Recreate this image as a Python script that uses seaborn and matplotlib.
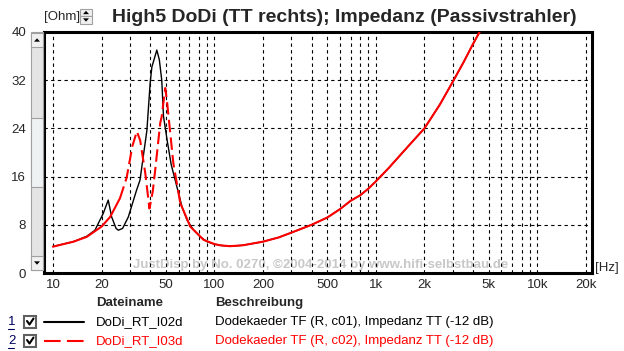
import matplotlib
matplotlib.use("Agg")
import matplotlib.pyplot as plt
import seaborn as sns
from matplotlib.patches import Rectangle, Polygon
from matplotlib.lines import Line2D

# Kurve 1: DoDi_RT_I02d (schwarz)
freq_1 = [10, 13.4, 16.2, 18.2, 20.5, 22.0, 23.1, 24.6, 25.4, 27.0, 29.3, 33.0,
          34.6, 38.2, 40, 41, 44, 45.6, 47.2, 48.4, 51, 54, 58.6, 63, 67.7, 74,
          81.8, 90, 100, 112, 125, 150, 200, 250, 300, 400, 500, 600, 700, 800,
          900, 1000, 1200, 1500, 2000, 2500, 3000, 3500, 4000, 4500, 5000]
imp_1 = [4.4, 5.2, 6.1, 7.1, 9.9, 12.1, 9.3, 7.4, 7.1, 7.4, 9.3, 13.8,
         15.4, 23.7, 31.5, 34.2, 37.0, 35.4, 32.0, 26.0, 22.0, 18.0, 14.3, 11.0, 8.8, 7.2,
         6.0, 5.2, 4.8, 4.55, 4.45, 4.6, 5.2, 5.9, 6.7, 8.0, 9.2, 10.6, 12.0, 12.9,
         14.0, 15.2, 17.4, 20.3, 24.0, 28.0, 31.75, 35.0, 38.0, 40.5, 43.0]

# Kurve 2: DoDi_RT_I03d (rot, gestrichelt)
freq_2 = [10, 13.4, 16.2, 20, 22.6, 26, 28.6, 31, 33.1, 34.7, 37.3, 39.6, 41.5,
          43, 46.2, 47.2, 49.6, 50.8, 52, 55.7, 61.5, 70.9, 85.8, 100, 108, 125,
          150, 200, 250, 300, 400, 500, 600, 700, 800, 900, 1000, 1200, 1500,
          2000, 2500, 3000, 3500, 4000, 4500, 5000]
imp_2 = [4.37, 5.2, 6.0, 7.7, 9.3, 12.4, 15.8, 21.0, 23.5, 22.0, 16.6, 10.7, 13.5,
         17.1, 24.9, 26.0, 30.7, 28.7, 26.0, 18.2, 11.6, 7.7, 5.5, 4.8, 4.6, 4.45,
         4.6, 5.2, 5.9, 6.7, 8.0, 9.2, 10.6, 12.0, 12.9, 14.0, 15.2, 17.4, 20.3,
         24.0, 28.0, 31.75, 35.0, 38.0, 40.5, 43.0]

x_ticks = [10, 20, 50, 100, 200, 500, 1000, 2000, 5000, 10000, 20000]
x_labels = ["10", "20", "50", "100", "200", "500", "1k", "2k", "5k", "10k", "20k"]
y_ticks = [0, 8, 16, 24, 32, 40]
grid_x = ([d * m for d in (10, 100, 1000) for m in range(1, 10)] + [10000, 20000])
grid_y = [8, 16, 24, 32]

file_names = ["DoDi_RT_I02d", "DoDi_RT_I03d"]
descriptions = ["Dodekaeder TF (R, c01), Impedanz TT (-12 dB)",
                "Dodekaeder TF (R, c02), Impedanz TT (-12 dB)"]
colors = ["black", "#ff0000"]

sns.set_style("white")
plt.rcParams["font.family"] = ["Liberation Sans", "DejaVu Sans"]

W, H = 624, 351
fig = plt.figure(figsize=(W / 100, H / 100), dpi=100)


def px(x, y):
    return x / W, 1 - y / H


ax = fig.add_axes([44 / W, 1 - 273 / H, 548 / W, 241 / H])
ax.set_xscale("log")
ax.set_xlim(8.8, 21850)
ax.set_ylim(0, 40)

# Wasserzeichen (hinter Gitter und Kurven)
ax.text(133 / W, 1 - 265 / H, "JustDisp by No. 0270, ©2004-2014 by www.hifi-selbstbau.de",
        transform=fig.transFigure, color="#c8c8c8", fontsize=9.5, fontweight="bold",
        ha="left", va="center", zorder=0)

# Gitter
ax.vlines(grid_x, 0, 40, colors="black", linestyles=(0, (3, 3)), lw=0.8, zorder=1)
ax.hlines(grid_y, 8.8, 21850, colors="black", linestyles=(0, (3, 3)), lw=0.8, zorder=1)

sns.lineplot(x=freq_1, y=imp_1, ax=ax, color=colors[0], lw=1.0, zorder=3)

# rote Kurve: flache Teile wirken durchgezogen, steile gestrichelt
f2_lo = [f for f in freq_2 if f <= 26]
z2_lo = imp_2[:len(f2_lo)]
i_hi = freq_2.index(61.5)
f2_mid = freq_2[len(f2_lo) - 1:i_hi + 1]
z2_mid = imp_2[len(f2_lo) - 1:i_hi + 1]
sns.lineplot(x=f2_lo, y=z2_lo, ax=ax, color=colors[1], lw=1.5, zorder=4)
sns.lineplot(x=f2_mid, y=z2_mid, ax=ax, color=colors[1], lw=1.5, zorder=4)
ax.lines[-1].set_dashes([6, 2.5])
sns.lineplot(x=freq_2[i_hi:], y=imp_2[i_hi:], ax=ax, color=colors[1], lw=1.5, zorder=4)

ax.set_xticks(x_ticks)
ax.set_xticklabels(x_labels)
ax.minorticks_off()
ax.set_yticks(y_ticks)
ax.tick_params(axis="x", length=0, pad=4, labelsize=9.5)
ax.tick_params(axis="y", length=0, pad=13, labelsize=9.5)
for s in ax.spines.values():
    s.set_linewidth(2.2)
    s.set_color("black")

# Titel und Einheiten
fig.text(*px(344, 17), "High5 DoDi (TT rechts); Impedanz (Passivstrahler)",
         fontsize=14, fontweight="bold", ha="center", va="center")
fig.text(*px(44, 17), "[Ohm]", fontsize=9.5, ha="left", va="center")
fig.text(*px(595, 268), "[Hz]", fontsize=9.5, ha="left", va="center")


def box(x0, y0, x1, y1, fc, ec="#a0a0a0", lw=0.8):
    fig.add_artist(Rectangle(px(x0, y1), (x1 - x0) / W, (y1 - y0) / H,
                             transform=fig.transFigure, fc=fc, ec=ec, lw=lw))


def tri(cx, cy, up=True):
    d = 2.5 if up else -2.5
    pts = [px(cx - 3, cy + d / 1.5), px(cx + 3, cy + d / 1.5), px(cx, cy - d / 1.5)]
    fig.add_artist(Polygon(pts, closed=True, transform=fig.transFigure,
                           fc="black", ec="none"))


# Spinbuttons neben [Ohm]
box(80, 9, 92, 16, "#f0f0f0")
box(80, 16, 92, 24, "#f0f0f0")
tri(86, 12.5, True)
tri(86, 20, False)

# Scrollbalken links
box(31, 32, 43, 270, "#e4e4e4")
box(31, 118, 43, 187, "#eef2f2")
box(31, 33, 43, 47, "#f0f0f0")
box(31, 256, 43, 270, "#f0f0f0")
tri(37, 40, True)
tri(37, 263, False)

# Legende
fig.text(*px(96, 303), "Dateiname", fontsize=9.5, fontweight="bold", va="center")
fig.text(*px(215, 303), "Beschreibung", fontsize=9.5, fontweight="bold", va="center")
row_y = [322, 341]
for i, (name, desc, col) in enumerate(zip(file_names, descriptions, colors)):
    y = row_y[i]
    fig.text(*px(8, y), str(i + 1), fontsize=9.5, va="center", color="#000060")
    fig.add_artist(Line2D([8 / W, 14 / W], [1 - (y + 7) / H] * 2,
                          transform=fig.transFigure, color="#000060", lw=0.8))
    box(24, y - 6, 36, y + 6, "white", ec="#606060", lw=1.5)
    fig.add_artist(Line2D([27 / W, 29.5 / W, 33.5 / W],
                          [1 - (y - 1) / H, 1 - (y + 2.5) / H, 1 - (y - 3.5) / H],
                          transform=fig.transFigure, color="black", lw=1.5))
    ln = Line2D([44 / W, 84 / W], [1 - y / H] * 2, transform=fig.transFigure,
                color=col, lw=1.5)
    if i == 1:
        ln.set_dashes([8, 3])
    fig.add_artist(ln)
    fig.text(*px(96, y), name, fontsize=9.5, va="center", color=col)
    fig.text(*px(215, y), desc, fontsize=9.5, va="center", color=col)

fig.savefig("out.png", dpi=100, facecolor="white")
